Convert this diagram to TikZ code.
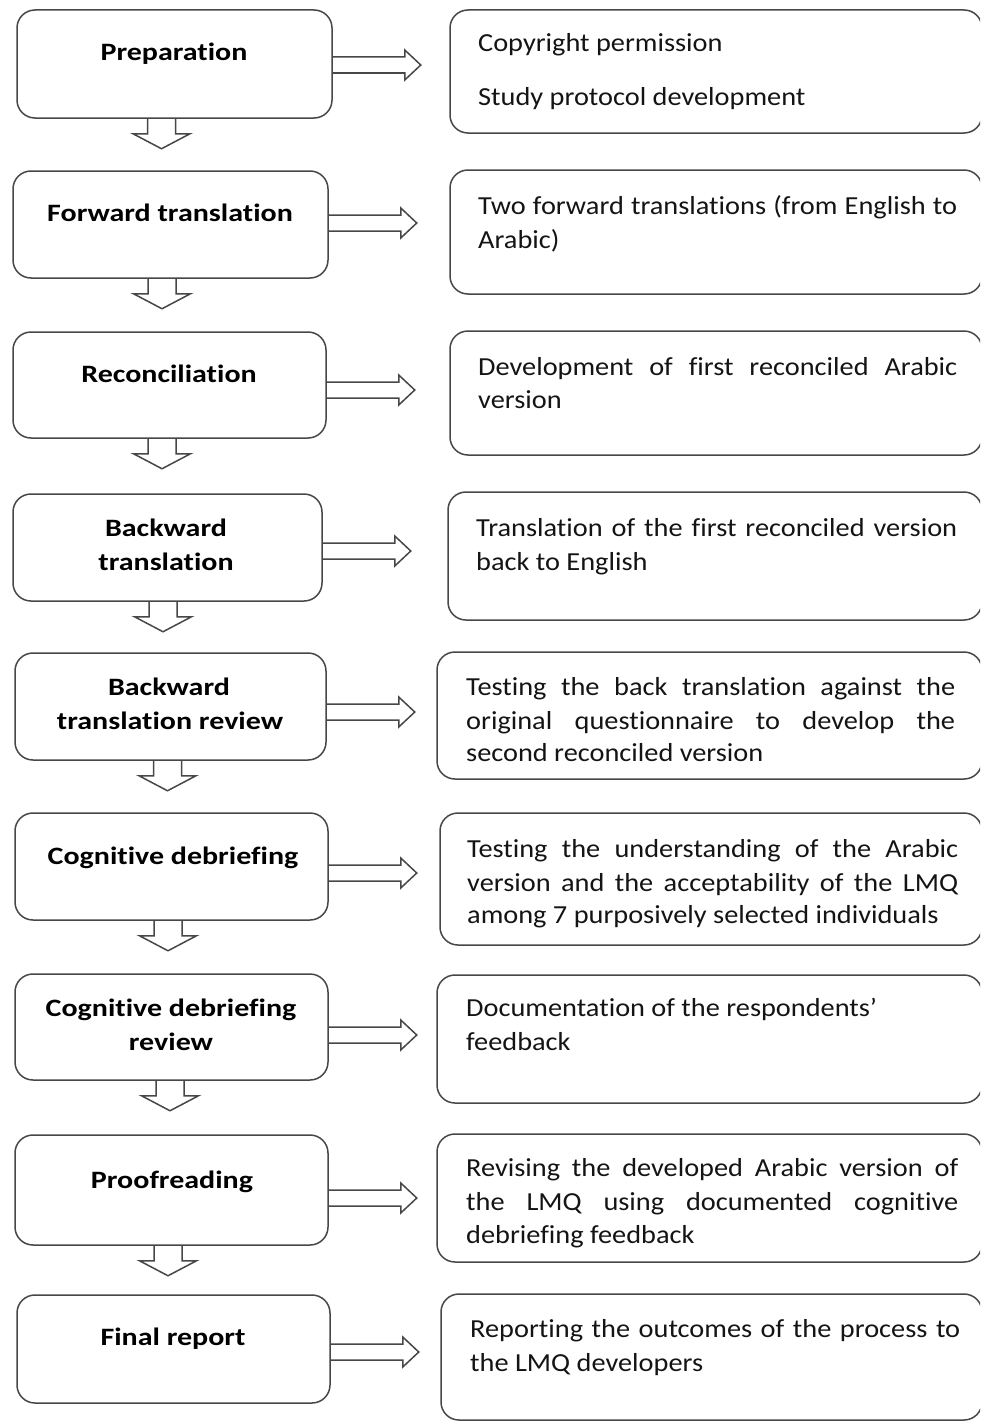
\documentclass[tikz,border=0pt]{standalone}
\usepackage{fontspec}
\setmainfont[Ligatures=NoCommon]{Carlito}
\newfontfamily\lblfont[FakeStretch=1.2,Ligatures=NoCommon]{Carlito}
\newfontfamily\txtfont[FakeStretch=1.09,Ligatures=NoCommon]{Carlito}
\usetikzlibrary{calc}
\newcommand{\downarr}[1]{\draw[blk] (#1) ++(-14,0) -- ++(0,15) -- ++(-14.5,0) -- ++(28.5,15) -- ++(28.5,-15) -- ++(-14.5,0) -- ++(0,-15);}
\newcommand{\rightarr}[1]{\draw[blk] (#1) ++(0,-8) -- ++(72,0) -- ++(0,-7) -- ++(16,15) -- ++(-16,15) -- ++(0,-7) -- ++(-72,0);}
\begin{document}
\begin{tikzpicture}[x=1pt,y=-1pt,
 lbx/.style={draw=black!72, line width=1.5pt, rounded corners=18pt, inner sep=0pt},
 lbl/.style={anchor=base, font=\lblfont\bfseries\fontsize{25}{34}\selectfont, inner sep=0pt, text=black},
 txt/.style={anchor=base west, font=\txtfont\fontsize{26}{34}\selectfont, inner sep=0pt, text=black!92},
 blk/.style={draw=black!72, line width=1.5pt, line join=miter}]
\useasboundingbox (0,0) rectangle (980,1421);
\clip (0,0) rectangle (980,1421);

% left boxes
\node[lbx, minimum width=315pt, minimum height=108pt] (L1) at (174.5,64) {};
\node[lbx, minimum width=315pt, minimum height=107pt] (L2) at (170.5,224.5) {};
\node[lbx, minimum width=313pt, minimum height=106pt] (L3) at (169.5,385) {};
\node[lbx, minimum width=309pt, minimum height=107pt] (L4) at (167.5,547.5) {};
\node[lbx, minimum width=311pt, minimum height=107pt] (L5) at (170.5,706.5) {};
\node[lbx, minimum width=313pt, minimum height=107pt] (L6) at (171.5,866.5) {};
\node[lbx, minimum width=313pt, minimum height=106pt] (L7) at (171.5,1027) {};
\node[lbx, minimum width=313pt, minimum height=110pt] (L8) at (171.5,1190) {};
\node[lbx, minimum width=313pt, minimum height=108pt] (L9) at (173.5,1349) {};

% right boxes
\node[lbx, minimum width=532pt, minimum height=123pt] (R1) at (716,71.5) {};
\node[lbx, minimum width=532pt, minimum height=124pt] (R2) at (716,232) {};
\node[lbx, minimum width=532pt, minimum height=124pt] (R3) at (716,393) {};
\node[lbx, minimum width=534pt, minimum height=128pt] (R4) at (715,556) {};
\node[lbx, minimum width=545pt, minimum height=127pt] (R5) at (709.5,715.5) {};
\node[lbx, minimum width=542pt, minimum height=132pt] (R6) at (711,879) {};
\node[lbx, minimum width=545pt, minimum height=128pt] (R7) at (709.5,1039) {};
\node[lbx, minimum width=545pt, minimum height=128pt] (R8) at (709.5,1198) {};
\node[lbx, minimum width=541pt, minimum height=126pt] (R9) at (711.5,1357) {};

% left labels
\node[lbl] (l1) at (174,61) {Preparation};
\node[lbl] (l2) at (170,221) {Forward translation};
\node[lbl] (l3) at (169,382) {Reconciliation};
\node[lbl] (l4a) at (166,536) {Backward};
\node[lbl] (l4b) at (166,570) {translation};
\node[lbl] (l5a) at (169,695) {Backward};
\node[lbl] (l5b) at (170,729) {translation review};
\node[lbl] (l6) at (173,864) {Cognitive debriefing};
\node[lbl] (l7a) at (171,1016) {Cognitive debriefing};
\node[lbl] (l7b) at (171,1050) {review};
\node[lbl] (l8) at (172,1188) {Proofreading};
\node[lbl] (l9) at (173,1345) {Final report};

% right texts
\node[txt] (r1a) at (478,52) {Copyright permission};
\node[txt] (r1b) at (478,105) {Study protocol development};
\node[txt] (r2a) at (478,214) {\makebox[479pt][s]{Two forward translations (from English to}};
\node[txt] (r2b) at (478,248) {Arabic)};
\node[txt] (r3a) at (478,375) {\makebox[479pt][s]{Development of first reconciled Arabic}};
\node[txt] (r3b) at (478,408) {version};
\node[txt] (r4a) at (476,536) {\makebox[481pt][s]{Translation of the first reconciled version}};
\node[txt] (r4b) at (476,570) {back to English};
\node[txt] (r5a) at (466,695) {\makebox[489pt][s]{Testing the back translation against the}};
\node[txt] (r5b) at (466,729) {\makebox[489pt][s]{original questionnaire to develop the}};
\node[txt] (r5c) at (466,761) {second reconciled version};
\node[txt] (r6a) at (467,857) {\makebox[491pt][s]{Testing the understanding of the Arabic}};
\node[txt] (r6b) at (467,891) {\makebox[491pt][s]{version and the acceptability of the LMQ}};
\node[txt] (r6c) at (467,923) {among 7 purposively selected individuals};
\node[txt] (r7a) at (466,1016) {Documentation of the respondents’};
\node[txt] (r7b) at (466,1050) {feedback};
\node[txt] (r8a) at (466,1176) {\makebox[492pt][s]{Revising the developed Arabic version of}};
\node[txt] (r8b) at (466,1210) {\makebox[492pt][s]{the LMQ using documented cognitive}};
\node[txt] (r8c) at (466,1243) {debriefing feedback};
\node[txt] (r9a) at (470,1337) {\makebox[490pt][s]{Reporting the outcomes of the process to}};
\node[txt] (r9b) at (470,1371) {the LMQ developers};

% right block arrows
\rightarr{$(L1.east)+(0,1)$}
\rightarr{$(L2.east)+(0,-1.5)$}
\rightarr{$(L3.east)+(0,5)$}
\rightarr{$(L4.east)+(0,3.5)$}
\rightarr{$(L5.east)+(0,5.5)$}
\rightarr{$(L6.east)+(0,6.5)$}
\rightarr{$(L7.east)+(0,8)$}
\rightarr{$(L8.east)+(0,8)$}
\rightarr{$(L9.east)+(0,3)$}

% down block arrows
\downarr{$(L1.south)+(-13,0)$}
\downarr{$(L2.south)+(-8.5,0)$}
\downarr{$(L3.south)+(-7.5,0)$}
\downarr{$(L4.south)+(-4.5,0)$}
\downarr{$(L5.south)+(-3,0)$}
\downarr{$(L6.south)+(-3.5,0)$}
\downarr{$(L7.south)+(-1.5,0)$}
\downarr{$(L8.south)+(-3.5,0)$}
\end{tikzpicture}
\end{document}
